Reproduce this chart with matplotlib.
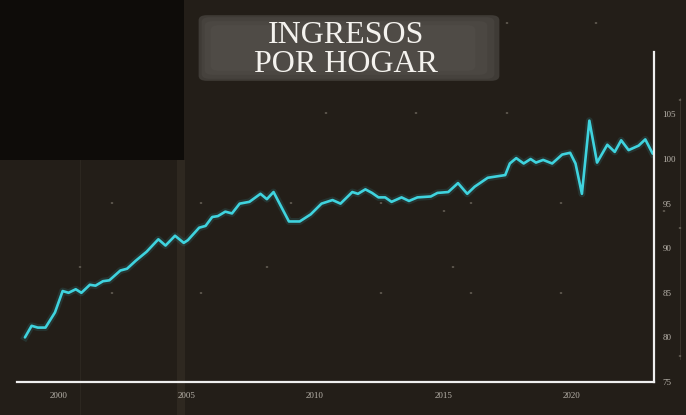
import matplotlib
matplotlib.use("Agg")
import matplotlib.pyplot as plt
from matplotlib.patches import Rectangle, FancyBboxPatch

# ---- data ----
years = [1998.70, 1998.96, 1999.2, 1999.5, 1999.87, 2000.17, 2000.4, 2000.68, 2000.9,
         2001.23, 2001.45, 2001.74, 2001.99, 2002.42, 2002.68, 2003.02, 2003.44, 2003.90,
         2004.18, 2004.55, 2004.89, 2005.05, 2005.49, 2005.74, 2006.0, 2006.22, 2006.51,
         2006.77, 2007.07, 2007.45, 2007.88, 2008.13, 2008.39, 2008.99, 2009.41, 2009.84,
         2010.26, 2010.69, 2011.0, 2011.46, 2011.68, 2011.97, 2012.23, 2012.48, 2012.74,
         2012.99, 2013.38, 2013.67, 2014.0, 2014.52, 2014.78, 2015.2, 2015.58, 2015.94,
         2016.23, 2016.74, 2017.42, 2017.6, 2017.85, 2018.14, 2018.41, 2018.62, 2018.9,
         2019.25, 2019.64, 2019.95, 2020.16, 2020.41, 2020.7, 2021.0, 2021.4, 2021.69,
         2021.94, 2022.23, 2022.62, 2022.88, 2023.17]
values = [80.0, 81.3, 81.1, 81.1, 82.8, 85.2, 85.0, 85.4, 85.0,
          85.9, 85.8, 86.3, 86.4, 87.5, 87.7, 88.6, 89.6, 91.0,
          90.3, 91.4, 90.6, 90.9, 92.3, 92.5, 93.5, 93.6, 94.1,
          93.9, 95.0, 95.2, 96.1, 95.5, 96.3, 93.0, 93.0, 93.8,
          95.0, 95.4, 95.0, 96.3, 96.1, 96.6, 96.2, 95.7, 95.7,
          95.2, 95.7, 95.3, 95.7, 95.8, 96.2, 96.3, 97.3, 96.1,
          96.9, 97.9, 98.2, 99.5, 100.1, 99.5, 100.0, 99.6, 99.9,
          99.5, 100.5, 100.7, 99.5, 96.1, 104.3, 99.6, 101.6, 100.8,
          102.1, 101.0, 101.5, 102.2, 100.6]
x_ticks = [2000, 2005, 2010, 2015, 2020]
y_ticks = [75, 80, 85, 90, 95, 100, 105]
title_lines = ["INGRESOS", "POR HOGAR"]

W, H = 686, 415
fig = plt.figure(figsize=(W / 100, H / 100), dpi=100)
fig.patch.set_facecolor('#231e18')

def fx(px):
    return px / W

def fy(py):
    return 1 - py / H

# background decoration
fig.add_artist(Rectangle((0, fy(160)), fx(184), 160 / H, transform=fig.transFigure,
                         facecolor='#0e0c09', edgecolor='none', zorder=0))
fig.add_artist(Rectangle((fx(177), 0), fx(8), fy(160), transform=fig.transFigure,
                         facecolor='#2e2820', edgecolor='none', zorder=0))
fig.add_artist(Rectangle((fx(79.5), 0), fx(1.2), fy(160), transform=fig.transFigure,
                         facecolor='#2c2720', edgecolor='none', zorder=0))
fig.add_artist(Rectangle((fx(679.5), fy(360)), fx(1), 262 / H, transform=fig.transFigure,
                         facecolor='#3a342c', edgecolor='none', zorder=0))

dots = [(326, 113), (416, 113), (507, 113), (507, 23), (596, 23),
        (112, 203), (201, 203), (291, 203), (381, 203), (471, 203), (561, 203), (444, 211),
        (80, 267), (267, 267), (453, 267),
        (201, 293), (381, 293), (471, 293), (561, 293), (112, 293),
        (680, 100), (680, 228), (680, 356), (664, 211)]
for (dx, dy) in dots:
    fig.add_artist(plt.Circle((fx(dx), fy(dy)), 1.3 / W, transform=fig.transFigure,
                              facecolor='#6e685e', edgecolor='none', zorder=0))

# title brush band (layered soft strokes)
strokes = [((200, 80), 298, 64, '#3f3b36'),
           ((203, 78), 290, 60, '#46423d'),
           ((206, 74), 280, 52, '#4b4742'),
           ((212, 70), 262, 44, '#4f4b46')]
for (x0, y0), w, h, col in strokes:
    fig.add_artist(FancyBboxPatch((fx(x0), fy(y0)), fx(w), h / H, transform=fig.transFigure,
                                  boxstyle="round,pad=0.002,rounding_size=0.012",
                                  facecolor=col, edgecolor='none', zorder=1))

fig.text(fx(346), fy(43), title_lines[0], ha='center', va='baseline',
         fontsize=23, color='#f4f2ee', family='Liberation Serif', zorder=3)
fig.text(fx(346), fy(72), title_lines[1], ha='center', va='baseline',
         fontsize=23, color='#f4f2ee', family='Liberation Serif', zorder=3)

# axes
ax = fig.add_axes([fx(17.5), fy(382), fx(654 - 17.5), (382 - 52) / H])
ax.set_facecolor('none')
ax.plot(years, values, color='#3fd3de', lw=5, alpha=0.12, solid_joinstyle='round')
ax.plot(years, values, color='#3fd3de', lw=1.9, solid_joinstyle='round',
        solid_capstyle='round')
ax.set_xlim(1998.41, 2023.22)
ax.set_ylim(75, 112)

for s in ['left', 'top']:
    ax.spines[s].set_visible(False)
for s in ['bottom', 'right']:
    ax.spines[s].set_color('#efefef')
    ax.spines[s].set_linewidth(1.6)

ax.yaxis.tick_right()
ax.set_xticks(x_ticks)
ax.set_yticks(y_ticks)
ax.set_xticklabels([str(v) for v in x_ticks], family='Liberation Serif')
ax.set_yticklabels([str(v) for v in y_ticks], family='Liberation Serif')
ax.tick_params(axis='both', length=0, labelsize=6.5, colors='#b8b3ab')
ax.tick_params(axis='x', pad=7)
ax.tick_params(axis='y', pad=6)
for lbl in ax.get_yticklabels():
    lbl.set_horizontalalignment('left')

fig.savefig('out.png', dpi=100, facecolor=fig.get_facecolor())
